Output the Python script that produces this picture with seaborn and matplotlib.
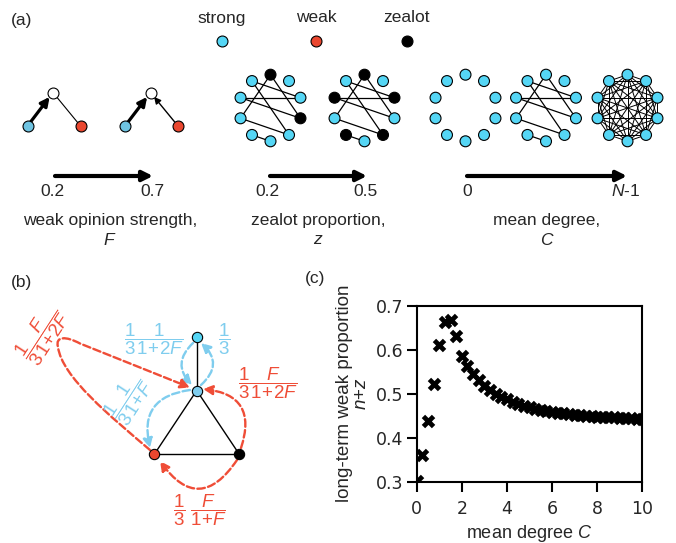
import numpy as np
import pandas as pd
import matplotlib
matplotlib.use("Agg")
import matplotlib.pyplot as plt
import seaborn as sns
from matplotlib.patches import FancyArrowPatch
from matplotlib.path import Path

# ---------------- data ----------------
mean_degree = [0.0, 0.25, 0.5, 0.75, 1.0, 1.25, 1.5, 1.75, 2.0, 2.25, 2.5, 2.75,
               3.0, 3.25, 3.5, 3.75, 4.0, 4.25, 4.5, 4.75, 5.0, 5.25, 5.5, 5.75,
               6.0, 6.25, 6.5, 6.75, 7.0, 7.25, 7.5, 7.75, 8.0, 8.25, 8.5, 8.75,
               9.0, 9.25, 9.5, 9.75, 10.0]
weak_proportion = [0.302, 0.361, 0.439, 0.522, 0.610, 0.662, 0.667, 0.631, 0.586,
                   0.564, 0.545, 0.530, 0.517, 0.508, 0.500, 0.493, 0.487, 0.482,
                   0.477, 0.473, 0.469, 0.466, 0.463, 0.461, 0.459, 0.457, 0.455,
                   0.454, 0.452, 0.451, 0.450, 0.449, 0.448, 0.447, 0.446, 0.446,
                   0.445, 0.444, 0.444, 0.443, 0.443]
x_ticks = [0, 2, 4, 6, 8, 10]
y_ticks = [0.3, 0.4, 0.5, 0.6, 0.7]
legend_labels = ["strong", "weak", "zealot"]
F_range = ["0.2", "0.7"]
z_range = ["0.2", "0.5"]
C_range = ["0", "$N$-1"]
# sparse example network (node 0 at top, clockwise)
edges = [(0, 7), (0, 3), (9, 2), (9, 4), (8, 2), (8, 3), (7, 4), (6, 5)]
zealots_low = [0, 3]
zealots_high = [0, 2, 4, 6, 8]
n_nodes = 10

# ---------------- style ----------------
sns.set_theme(style="ticks")
plt.rcParams['font.family'] = ['Liberation Sans', 'DejaVu Sans']
plt.rcParams['mathtext.fontset'] = 'custom'
plt.rcParams['mathtext.rm'] = 'Liberation Sans'
plt.rcParams['mathtext.it'] = 'Liberation Sans:italic'
plt.rcParams['mathtext.bf'] = 'Liberation Sans:bold'
plt.rcParams['mathtext.sf'] = 'Liberation Sans'

CYAN = "#55d6f5"
CYAN2 = "#6fc4e2"
CYAN_B = "#7fcdee"
RED = "#ea472f"
RED_B = "#ef4d37"
FS = 12.5

fig = plt.figure(figsize=(6.76, 5.43), dpi=100)
bg = fig.add_axes([0, 0, 1, 1])
bg.set_xlim(0, 676)
bg.set_ylim(543, 0)
bg.axis('off')

NODE_S = 62

def node(x, y, c, s=NODE_S, z=5):
    bg.scatter([x], [y], s=s, c=c, edgecolors='black', linewidths=0.8, zorder=z)

def arrow(p_from, p_to, lw, ms, shrink=5):
    bg.annotate("", xy=p_to, xytext=p_from,
                arrowprops=dict(arrowstyle='-|>', lw=lw, color='black',
                                shrinkA=shrink, shrinkB=shrink, mutation_scale=ms))

# ---------------- panel (a) ----------------
bg.text(11, 20, "(a)", fontsize=FS, va='center', ha='left')
leg_x = [222, 316, 407]
leg_c = [CYAN, RED, "black"]
for lx, lab, lc in zip(leg_x, legend_labels, leg_c):
    bg.text(lx, 18, lab, fontsize=FS, ha='center', va='center')
    node(lx, 41, lc)

# weak opinion strength diagrams
for k, ox in enumerate([27.5, 125]):
    cyan_p = (ox, 126)
    white_p = (ox + 25.5, 92.5)
    red_p = (ox + 53, 126)
    node(*cyan_p, CYAN2)
    node(*white_p, "white")
    node(*red_p, RED)
    arrow(cyan_p, white_p, 2.3, 13, shrink=4)
    if k == 0:
        bg.plot([red_p[0], white_p[0]], [red_p[1], white_p[1]], color='black', lw=0.8, zorder=2)
    else:
        arrow(red_p, white_p, 1.0, 10, shrink=4)

# networks
RX, RY = 31.5, 33.3
ang = np.deg2rad(90 - 36 * np.arange(n_nodes))

def ring(cx, cy):
    return cx + RX * np.cos(ang), cy - RY * np.sin(ang)

def network(cx, cy, edge_list, black_nodes, elw=0.9):
    xs, ys = ring(cx, cy)
    for a, b in edge_list:
        bg.plot([xs[a], xs[b]], [ys[a], ys[b]], color='black', lw=elw, zorder=2)
    cols = ["black" if i in black_nodes else CYAN for i in range(n_nodes)]
    bg.scatter(xs, ys, s=NODE_S, c=cols, edgecolors='black', linewidths=0.8, zorder=5)

network(270.5, 108, edges, zealots_low)
network(364.5, 108, edges, zealots_high)
network(465.5, 108, [], [])
network(546, 108, edges, [])
complete = [(i, j) for i in range(n_nodes) for j in range(i + 1, n_nodes)]
network(627.5, 108, complete, [], elw=0.7)

# parameter arrows
AY = 176
for (x0, x1), labs, title, var in [((55, 153), F_range, "weak opinion strength,", "$F$"),
                                    ((270, 367), z_range, "zealot proportion,", "$z$"),
                                    ((467, 627), C_range, "mean degree,", "$C$")]:
    bg.annotate("", xy=(x1, AY), xytext=(x0, AY),
                arrowprops=dict(arrowstyle='-|>', lw=3, color='black',
                                shrinkA=0, shrinkB=0, mutation_scale=15))
    bg.text(x0 - 3 if labs[0] != "0" else x0, 191, labs[0], fontsize=FS, ha='center', va='center')
    bg.text(x1 - 1, 191, labs[1], fontsize=FS, ha='center', va='center')
    cxm = (x0 + x1) / 2 + (6 if x0 == 55 else 0)
    bg.text(cxm, 220, title, fontsize=FS, ha='center', va='center')
    bg.text(cxm, 240, var, fontsize=FS, ha='center', va='center')

# ---------------- panel (b) ----------------
bg.text(11, 283, "(b)", fontsize=FS, va='center', ha='left')
P_top = (196.7, 337.3)
P_mid = (196.7, 390.5)
P_red = (154.3, 454.3)
P_blk = (239.3, 454.3)
for a, b in [(P_top, P_mid), (P_mid, P_red), (P_mid, P_blk), (P_red, P_blk)]:
    bg.plot([a[0], b[0]], [a[1], b[1]], color='black', lw=1.0, zorder=2)
node(*P_top, CYAN, s=55)
node(*P_mid, CYAN_B, s=55)
node(*P_red, RED, s=55)
node(*P_blk, "black", s=55)

DASH = (0, (3.2, 1.4))

def carrow(a, b, rad, color):
    p = FancyArrowPatch(a, b, connectionstyle=f"arc3,rad={rad}", arrowstyle='-|>',
                        mutation_scale=14, lw=1.7, ls=DASH, color=color,
                        shrinkA=0, shrinkB=0, zorder=3)
    bg.add_patch(p)

carrow((193, 343), (192, 385), 0.5, CYAN_B)
carrow((201, 385), (201, 343), 0.55, CYAN_B)
carrow((190, 390), (150, 448), 0.55, CYAN_B)
carrow((241, 448), (203, 389), 0.62, RED_B)
carrow((237, 460), (160, 461), -0.72, RED_B)

loop = Path([(150, 450), (110, 416), (62, 377), (58, 347),
             (55, 336), (66, 336), (80, 343.5), (190, 387.5)],
            [Path.MOVETO, Path.CURVE4, Path.CURVE4, Path.CURVE4,
             Path.CURVE4, Path.CURVE4, Path.CURVE4, Path.LINETO])
bg.add_patch(FancyArrowPatch(path=loop, arrowstyle='-|>', mutation_scale=14, lw=1.7,
                             ls=DASH, color=RED_B, zorder=3))

FFS = 13.5
bg.text(153.5, 339, r"$\dfrac{1}{3}\dfrac{1}{1\!+\!2F}$", color=CYAN_B, fontsize=FFS, ha='center', va='center')
bg.text(224.5, 339, r"$\dfrac{1}{3}$", color=CYAN_B, fontsize=FFS, ha='center', va='center')
bg.text(128, 398, r"$\dfrac{1}{3}\dfrac{1}{1\!+\!F}$", color=CYAN_B, fontsize=FFS, ha='center', va='center', rotation=57)
bg.text(42, 334, r"$\dfrac{1}{3}\dfrac{F}{1\!+\!2F}$", color=RED_B, fontsize=FFS, ha='center', va='center', rotation=57)
bg.text(268, 383, r"$\dfrac{1}{3}\dfrac{F}{1\!+\!2F}$", color=RED_B, fontsize=FFS, ha='center', va='center')
bg.text(200, 510, r"$\dfrac{1}{3}\;\dfrac{F}{1\!+\!F}$", color=RED_B, fontsize=FFS, ha='center', va='center')

# ---------------- panel (c) ----------------
bg.text(305, 279, "(c)", fontsize=FS, va='center', ha='left')
L, R, T, B = 416.7, 642.3, 305.7, 481.7
axc = fig.add_axes([L / 676, 1 - B / 543, (R - L) / 676, (B - T) / 543])
df = pd.DataFrame({"C": mean_degree, "w": weak_proportion})
sns.scatterplot(data=df, x="C", y="w", marker="X", s=95, color="black",
                linewidth=0, ax=axc, legend=False, zorder=3)
axc.set_xlim(0, 10)
axc.set_ylim(0.3, 0.7)
axc.set_xticks(x_ticks)
axc.set_yticks(y_ticks)
axc.set_xticklabels([str(t) for t in x_ticks], fontfamily='DejaVu Sans', fontsize=12.5)
axc.set_yticklabels([f"{t:.1f}" for t in y_ticks], fontfamily='DejaVu Sans', fontsize=12.5)
for sp in axc.spines.values():
    sp.set_visible(True)
    sp.set_linewidth(1.5)
    sp.set_color('black')
axc.tick_params(direction='out', length=7, width=1.5, color='black')
axc.tick_params(axis='x', pad=6)
axc.tick_params(axis='y', pad=2.5)
axc.set_xlabel("mean degree $C$", fontsize=13, labelpad=4)
axc.set_ylabel("long-term weak proportion\n$n$+$z$", fontsize=13.5, labelpad=4, linespacing=1.0)

fig.savefig("out.png", dpi=100)
